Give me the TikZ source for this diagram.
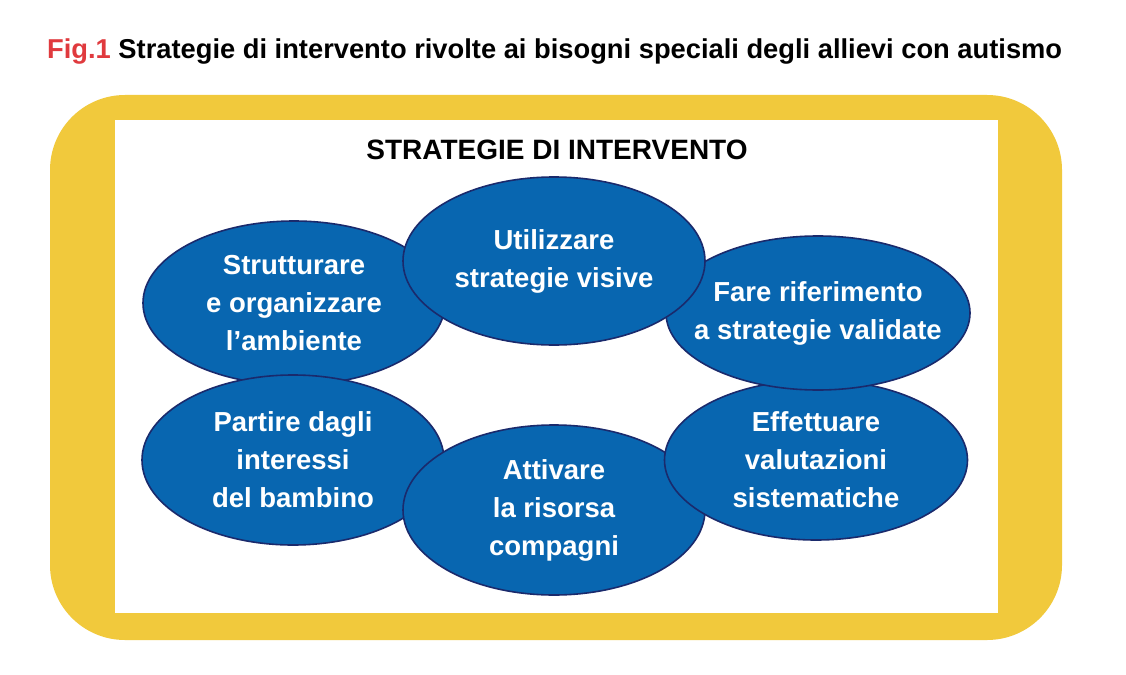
\documentclass[tikz,border=0pt]{standalone}
\usepackage{fontspec}
\setmainfont{Liberation Sans}
\usetikzlibrary{shapes.geometric}
\definecolor{ybg}{HTML}{F1C93C}
\definecolor{efill}{HTML}{0866B0}
\definecolor{edraw}{HTML}{1A2A6C}
\definecolor{figred}{HTML}{E03A3E}
\begin{document}
\begin{tikzpicture}[x=1pt,y=-1pt,
  ell/.style={ellipse,draw=edraw,line width=1.6pt,fill=efill,text=white,
    font=\fontsize{27.5}{38}\selectfont\bfseries,align=center,inner xsep=-30pt,inner ysep=-10pt}]
\useasboundingbox (0,0) rectangle (1126,674);
\fill[white] (0,0) rectangle (1126,674);
\node[anchor=base west,font=\fontsize{27.3}{30}\selectfont\bfseries,inner sep=0pt] (title) at (47,59)
  {\textcolor{figred}{Fig.1} Strategie di intervento rivolte ai bisogni speciali degli allievi con autismo};
\fill[ybg,rounded corners=75pt] (50,95) rectangle (1062,640);
\fill[white] (115,120) rectangle (998,613);
\node[font=\fontsize{28}{30}\selectfont\bfseries,inner sep=0pt] (head) at (557,150) {STRATEGIE DI INTERVENTO};
\node[ell,minimum width=302pt,minimum height=164pt] (e1) at (294,303) {Strutturare\\e organizzare\\l’ambiente};
\node[ell,minimum width=302pt,minimum height=170pt] (e4) at (293,460) {Partire dagli\\interessi\\del bambino};
\node[ell,minimum width=302pt,minimum height=170pt] (e5) at (554,510) {Attivare\\la risorsa\\compagni};
\node[ell,minimum width=303pt,minimum height=160pt] (e6) at (816,460) {Effettuare\\valutazioni\\sistematiche};
\node[ell,minimum width=304pt,minimum height=154pt] (e3) at (818,313) {Fare riferimento\\a strategie validate};
\node[ell,minimum width=302pt,minimum height=168pt] (e2) at (554,261) {Utilizzare\\strategie visive};
\end{tikzpicture}
\end{document}
